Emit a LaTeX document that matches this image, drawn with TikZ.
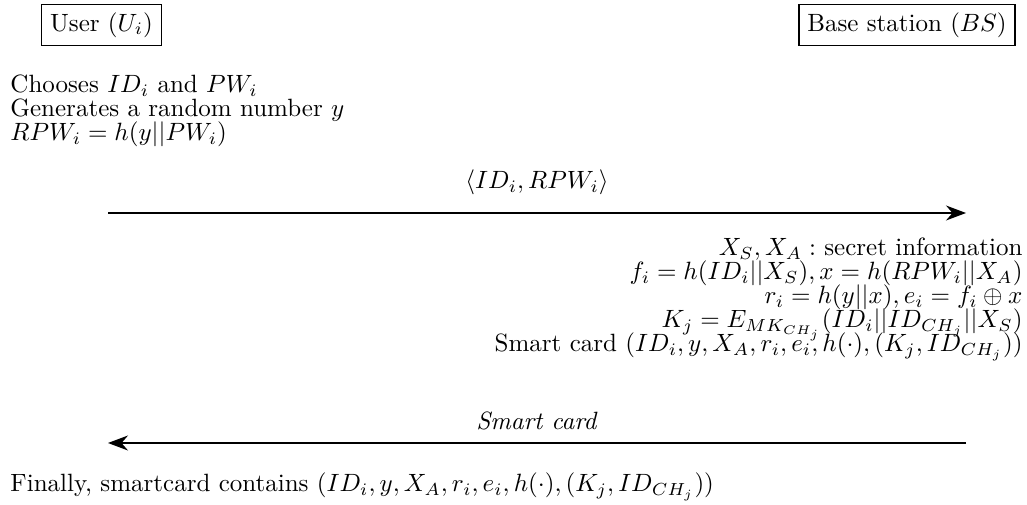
\documentclass[tikz,border=0pt]{standalone}
\usepackage{amsmath}
\usetikzlibrary{arrows.meta}
\begin{document}
\begin{tikzpicture}[x=0.4pt,y=-0.4pt]

  \tikzset{party/.style = {draw,line width=0.5pt,inner sep=3.33pt}}
  \tikzset{steps/.style = {inner sep=0pt,font={\baselineskip=9.65pt\lineskiplimit=-\maxdimen}}}
  \tikzset{msg/.style = {-{Stealth[length=8pt,width=6pt]},line width=0.5pt}}
  \useasboundingbox (0,0) rectangle (1027,505);
  % parties
  \node[party] (user) at (101.5,25) {User $(U_i)$};
  \node[party] (bs)   at (907,25)   {Base station $(BS)$};
  % user side
  \node[steps,align=left,anchor=base west] (ustep) at (10,141)
    {Chooses $ID_i$ and $PW_i$\\
     Generates a random number $y$\\
     $RPW_i = h(y||PW_i)$};
  % base station side
  \node[steps,align=right,anchor=base east] (bstep) at (1023,352)
    {$X_S, X_A :$ secret information\\
     $f_i = h(ID_i||X_S), x = h(RPW_i||X_A)$\\
     $r_i = h(y||x), e_i = f_i \oplus x$\\
     $K_j = E_{MK_{CH_j}}(ID_i||ID_{CH_j}||X_S)$\\
     Smart card $(ID_i, y, X_A, r_i, e_i, h(\cdot), (K_j, ID_{CH_j}))$};
  \node[steps,anchor=base west] (fin) at (10,492)
    {Finally, smartcard contains $(ID_i, y, X_A, r_i, e_i, h(\cdot), (K_j, ID_{CH_j}))$};
  % messages
  \coordinate (m1s) at (108,213);
  \coordinate (m1e) at (966,213);
  \coordinate (m2s) at (966,443);
  \coordinate (m2e) at (108,443);
  \draw[msg] (m1s) -- node[steps,anchor=base,yshift=9.8pt] (reg) {$\langle ID_i, RPW_i\rangle$} (m1e);
  \draw[msg] (m2s) -- node[steps,anchor=base,yshift=5.2pt] (card) {\textit{Smart card}} (m2e);
\end{tikzpicture}
\end{document}
